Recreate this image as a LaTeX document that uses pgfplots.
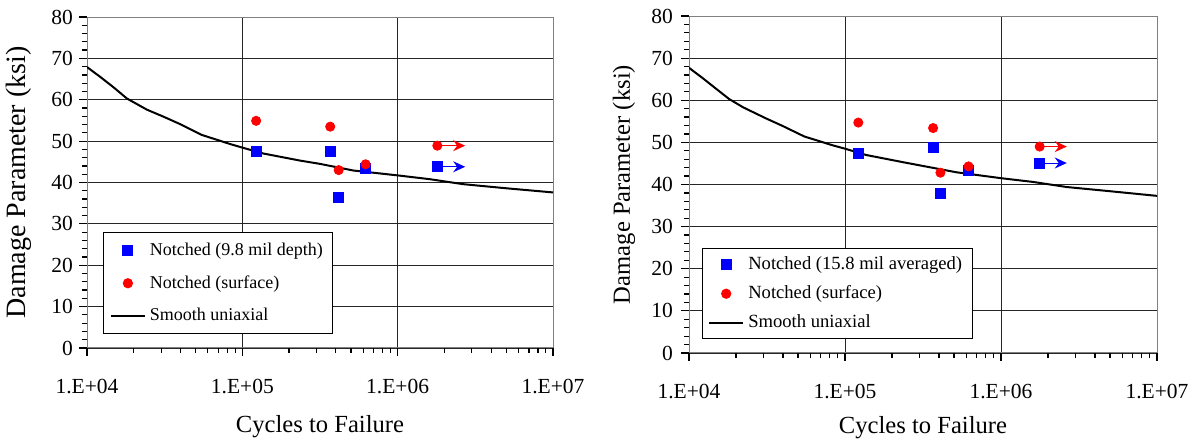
\documentclass[border=0pt]{standalone}
\usepackage{fontspec}
\setmainfont{Liberation Serif}
\usepackage{pgfplots}
\pgfplotsset{compat=1.18}
\usetikzlibrary{arrows.meta}

% tick marks drawn outside the axis box: #1,#2 = origin (pt), #3,#4 = width, height (pt)
\newcommand\myticks[4]{%
  \foreach \vv in {0,2,...,80} {\draw[black, line width=0.6pt] (#1pt,{(#2+\vv*#4/80)*1pt}) -- ++(-2.5pt,0pt);}
  \foreach \vv in {0,10,...,80} {\draw[black, line width=0.6pt] (#1pt,{(#2+\vv*#4/80)*1pt}) -- ++(-4pt,0pt);}
  \foreach \dd in {0,1,2} {\foreach \kk in {2,...,9} {\draw[black, line width=0.6pt] ({(#1+(\dd+ln(\kk)/ln(10))*#3/3)*1pt},#2pt) -- ++(0pt,-2.5pt);}}
  \foreach \dd in {0,1,2,3} {\draw[black, line width=0.6pt] ({(#1+\dd*#3/3)*1pt},#2pt) -- ++(0pt,-4pt);}
}

\pgfplotstableread{
N       S
10000   67.9
12190   65.5
14830   63.0
18070   60.3
24320   57.6
31120   55.9
39810   54.1
54830   51.5
83370   49.3
100700  48.4
136800  47.0
235000  45.3
316200  44.5
517600  42.9
1009000 41.7
1611000 40.8
2636000 39.6
5012000 38.6
10000000 37.6
}\smoothA

\pgfplotstableread{
N       S
10000   67.7
12190   65.3
14830   62.8
18070   60.3
22280   58.3
31120   55.7
39810   53.9
54830   51.4
83370   49.3
100000  48.5
136800  47.0
235000  45.3
316200  44.4
517600  42.9
1000000 41.5
1611000 40.6
2636000 39.4
5012000 38.4
10000000 37.3
}\smoothB

\begin{document}
\begin{tikzpicture}
\path[use as bounding box] (0,0) rectangle (598pt,221pt);

% ---------- left panel ----------
\begin{semilogxaxis}[
  scale only axis, xmin=1e4, xmax=1e7, ymin=0, ymax=80,
  ytick={0,10,...,70},
  extra y ticks={80}, extra y tick style={grid=none},
  xtick={1e4,1e5,1e6}, xticklabels={1.E+04,1.E+05,1.E+06},
  extra x ticks={1e7}, extra x tick labels={1.E+07}, extra x tick style={grid=none},
  xtick pos=bottom, ytick pos=left,
  major tick length=0pt, minor tick length=0pt,
  xmajorgrids, ymajorgrids, major grid style={black!85, line width=0.45pt},
  axis line style={gray, line width=0.5pt},
  tick label style={font=\fontsize{10.75}{12}\selectfont},
  yticklabel={\pgfmathprintnumber[assume math mode=true]{\tick}},
  xticklabel style={yshift=-12pt},
  yticklabel style={xshift=-3.5pt},
  legend cell align=left,
  xlabel={Cycles to Failure},
  ylabel={Damage Parameter (ksi)},
  at={(43.5pt,47pt)}, anchor=south west,
  width=233pt, height=165.5pt,
  xlabel style={at={(axis description cs:0.5,-0.239)}, anchor=center, font=\fontsize{12.3}{14}\selectfont},
  ylabel style={at={(axis description cs:-0.146,0.5)}, anchor=center, font=\fontsize{14}{16}\selectfont},
  legend style={font=\fontsize{9}{10.5}\selectfont, at={(rel axis cs:0.035,0.042)}, anchor=south west,
    draw=black, line width=0.5pt, fill=white, row sep=4.5pt, inner xsep=3pt, inner ysep=3pt},
]
\addplot[forget plot, red, line width=0.5pt, -{Stealth[length=6pt,width=5.5pt,inset=2pt]}] coordinates {(1.80e6,48.9) (2.72e6,48.9)};
\addplot[forget plot, blue, line width=0.5pt, -{Stealth[length=6pt,width=5.5pt,inset=2pt]}] coordinates {(1.80e6,43.8) (2.72e6,43.8)};
\addplot[only marks, mark=square*, mark size=2.5pt, color=blue] coordinates {
 (1.227e5,47.4) (3.68e5,47.4) (4.17e5,36.4) (6.22e5,43.3) (1.80e6,43.8)};
\addplot[only marks, mark=*, mark size=2.3pt, color=red] coordinates {
 (1.227e5,54.9) (3.68e5,53.5) (4.17e5,43.0) (6.22e5,44.4) (1.80e6,48.9)};
\addplot[black, line width=1pt, mark=none] table[x=N,y=S] {\smoothA};
\legend{Notched (9.8 mil depth), Notched (surface), Smooth uniaxial}
\end{semilogxaxis}

% ---------- right panel ----------
\begin{semilogxaxis}[
  scale only axis, xmin=1e4, xmax=1e7, ymin=0, ymax=80,
  ytick={0,10,...,70},
  extra y ticks={80}, extra y tick style={grid=none},
  xtick={1e4,1e5,1e6}, xticklabels={1.E+04,1.E+05,1.E+06},
  extra x ticks={1e7}, extra x tick labels={1.E+07}, extra x tick style={grid=none},
  xtick pos=bottom, ytick pos=left,
  major tick length=0pt, minor tick length=0pt,
  xmajorgrids, ymajorgrids, major grid style={black!85, line width=0.45pt},
  axis line style={gray, line width=0.5pt},
  tick label style={font=\fontsize{10.75}{12}\selectfont},
  yticklabel={\pgfmathprintnumber[assume math mode=true]{\tick}},
  xticklabel style={yshift=-12pt},
  yticklabel style={xshift=-4.5pt},
  legend cell align=left,
  xlabel={Cycles to Failure},
  ylabel={Damage Parameter (ksi)},
  at={(344.5pt,44.5pt)}, anchor=south west,
  width=234pt, height=168.5pt,
  xlabel style={at={(axis description cs:0.5,-0.22)}, anchor=center, font=\fontsize{12.3}{14}\selectfont},
  ylabel style={at={(axis description cs:-0.139,0.5)}, anchor=center, font=\fontsize{12.3}{14}\selectfont},
  legend style={font=\fontsize{9.3}{10.5}\selectfont, at={(rel axis cs:0.027,0.041)}, anchor=south west,
    draw=black, line width=0.5pt, fill=white, row sep=2.5pt, inner xsep=3pt, inner ysep=2pt},
]
\addplot[forget plot, red, line width=0.5pt, -{Stealth[length=6pt,width=5.5pt,inset=2pt]}] coordinates {(1.77e6,49.0) (2.64e6,49.0)};
\addplot[forget plot, blue, line width=0.5pt, -{Stealth[length=6pt,width=5.5pt,inset=2pt]}] coordinates {(1.77e6,45.1) (2.64e6,45.1)};
\addplot[only marks, mark=square*, mark size=2.5pt, color=blue] coordinates {
 (1.217e5,47.4) (3.67e5,48.8) (4.09e5,37.8) (6.19e5,43.3) (1.77e6,45.1)};
\addplot[only marks, mark=*, mark size=2.3pt, color=red] coordinates {
 (1.217e5,54.7) (3.67e5,53.4) (4.09e5,42.8) (6.19e5,44.3) (1.77e6,49.0)};
\addplot[black, line width=1pt, mark=none] table[x=N,y=S] {\smoothB};
\legend{Notched (15.8 mil averaged), Notched (surface), Smooth uniaxial}
\end{semilogxaxis}

\myticks{43.5}{47}{233}{165.5}
\myticks{344.5}{44.5}{234}{168.5}
\end{tikzpicture}
\end{document}
